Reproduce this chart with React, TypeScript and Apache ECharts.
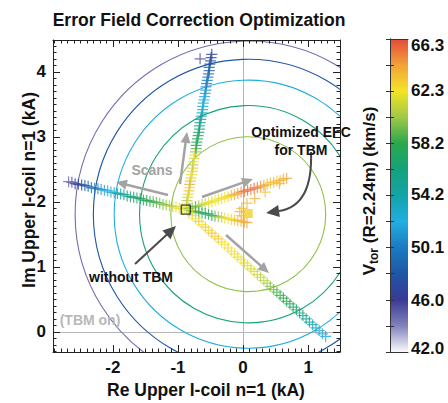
import React, { useEffect, useRef } from 'react';
import * as echarts from 'echarts';

const xRange = [-2.92, 1.49];
const yRange = [-0.31, 4.49];
const vRange = [42.0, 66.3];
const colorbarLabels = ['42.0', '46.0', '50.1', '54.2', '58.2', '62.3', '66.3'];
const colormap = ['#fafafd', '#8282bd', '#3a3a94', '#1e56a6', '#1a7ac2', '#22aee2', '#12a4a8', '#16a27a', '#2aa84e', '#a0c846', '#f4e426', '#f2a23a', '#e64a38'];

const contourCenter = [0.08, 1.81];
const contourRadii = [1.19, 1.67, 2.06, 2.38, 2.66];
const contourValues = [59.9, 56.2, 52.2, 48.1, 44.6];

const scanUp = [
  [-0.87, 1.92, 61.5], [-0.87, 1.97, 62.5], [-0.86, 2.02, 60.5], [-0.85, 2.07, 63.0], [-0.84, 2.12, 61.8],
  [-0.83, 2.17, 63.5], [-0.82, 2.22, 62.0], [-0.82, 2.27, 64.0], [-0.81, 2.32, 61.0], [-0.80, 2.37, 63.0],
  [-0.79, 2.42, 62.0], [-0.78, 2.47, 61.5], [-0.77, 2.52, 63.0], [-0.77, 2.57, 60.5], [-0.76, 2.62, 62.0],
  [-0.75, 2.67, 61.5], [-0.74, 2.72, 62.5], [-0.73, 2.77, 60.0], [-0.72, 2.82, 58.8], [-0.72, 2.87, 58.2],
  [-0.71, 2.92, 57.8], [-0.70, 2.97, 57.5], [-0.69, 3.02, 57.0], [-0.68, 3.07, 56.8], [-0.67, 3.12, 56.2],
  [-0.67, 3.17, 55.8], [-0.66, 3.22, 55.3], [-0.65, 3.27, 54.8], [-0.64, 3.32, 54.2], [-0.63, 3.37, 53.8],
  [-0.62, 3.42, 53.3], [-0.62, 3.47, 53.0], [-0.61, 3.52, 52.6], [-0.60, 3.57, 52.2], [-0.59, 3.62, 51.9],
  [-0.58, 3.67, 51.5], [-0.57, 3.72, 51.1], [-0.57, 3.77, 50.8], [-0.56, 3.82, 50.4], [-0.55, 3.87, 50.0],
  [-0.54, 3.92, 49.6], [-0.53, 3.97, 49.2], [-0.52, 4.02, 48.8], [-0.52, 4.07, 48.4], [-0.51, 4.12, 48.0],
  [-0.50, 4.17, 47.6], [-0.49, 4.22, 47.2], [-0.48, 4.27, 46.8], [-0.66, 4.20, 45.5],
];

const scanLeft = [
  [-0.93, 1.89, 62.2], [-0.98, 1.90, 61.8], [-1.03, 1.92, 62.5], [-1.08, 1.93, 61.2], [-1.13, 1.94, 60.8],
  [-1.18, 1.95, 60.2], [-1.23, 1.96, 59.8], [-1.28, 1.98, 59.4], [-1.33, 1.99, 59.0], [-1.38, 2.00, 58.6],
  [-1.43, 2.01, 58.3], [-1.48, 2.02, 57.9], [-1.53, 2.03, 57.6], [-1.58, 2.05, 57.3], [-1.63, 2.06, 57.0],
  [-1.68, 2.07, 56.6], [-1.73, 2.08, 56.2], [-1.78, 2.09, 55.8], [-1.83, 2.11, 55.3], [-1.88, 2.12, 54.8],
  [-1.93, 2.13, 54.2], [-1.98, 2.14, 53.6], [-2.03, 2.15, 53.0], [-2.08, 2.17, 52.4], [-2.13, 2.18, 51.9],
  [-2.18, 2.19, 51.3], [-2.23, 2.20, 50.7], [-2.28, 2.21, 50.1], [-2.33, 2.22, 49.5], [-2.38, 2.24, 48.9],
  [-2.43, 2.25, 48.3], [-2.48, 2.26, 47.6], [-2.53, 2.27, 46.9], [-2.58, 2.28, 46.2], [-2.63, 2.30, 45.4],
  [-2.68, 2.31, 44.6],
];

const scanUpRight = [
  [-0.83, 1.90, 59.5], [-0.78, 1.91, 60.5], [-0.73, 1.93, 58.8], [-0.68, 1.94, 60.2], [-0.63, 1.96, 61.0],
  [-0.58, 1.97, 61.5], [-0.53, 1.99, 62.0], [-0.48, 2.00, 61.6], [-0.43, 2.02, 62.2], [-0.38, 2.04, 62.0],
  [-0.33, 2.05, 62.4], [-0.28, 2.07, 62.2], [-0.23, 2.08, 62.8], [-0.18, 2.10, 63.4], [-0.13, 2.11, 63.8],
  [-0.08, 2.13, 64.3], [-0.03, 2.15, 64.8], [0.02, 2.16, 65.3], [0.07, 2.18, 65.6], [0.12, 2.19, 65.2],
  [0.17, 2.21, 65.6], [0.22, 2.22, 65.0], [0.27, 2.24, 64.6], [0.32, 2.25, 64.2], [0.37, 2.27, 63.8],
  [0.42, 2.29, 63.3], [0.47, 2.30, 63.6], [0.52, 2.32, 63.2], [0.57, 2.33, 63.6], [0.62, 2.35, 63.8],
  [0.67, 2.36, 64.0],
];

const scanRight = [
  [-0.83, 1.87, 60.5], [-0.78, 1.86, 59.5], [-0.73, 1.85, 58.6], [-0.68, 1.84, 58.0], [-0.63, 1.83, 57.4],
  [-0.58, 1.82, 57.2], [-0.53, 1.81, 57.6], [-0.48, 1.79, 58.2], [-0.43, 1.78, 59.0], [-0.38, 1.77, 60.2],
  [-0.33, 1.76, 61.0], [-0.28, 1.75, 61.8], [-0.23, 1.74, 62.2], [-0.18, 1.73, 62.8], [-0.13, 1.72, 63.2],
  [-0.08, 1.71, 63.6], [-0.03, 1.70, 63.8], [0.02, 1.69, 64.0], [0.06, 1.68, 64.2],
];

const scanExtra = [
  [-0.05, 1.85, 63.8], [-0.02, 1.90, 63.5], [0.06, 1.98, 63.6], [0.18, 2.05, 63.8],
  [0.34, 2.15, 63.4], [0.56, 2.28, 63.6], [-0.02, 1.79, 63.5],
];

const scanDownRight = [
  [-0.83, 1.83, 61.5], [-0.78, 1.79, 62.5], [-0.73, 1.74, 61.8], [-0.68, 1.70, 63.0], [-0.63, 1.65, 62.2],
  [-0.58, 1.61, 63.2], [-0.53, 1.56, 62.6], [-0.48, 1.52, 63.4], [-0.43, 1.47, 62.8], [-0.38, 1.43, 63.2],
  [-0.33, 1.38, 62.6], [-0.28, 1.34, 62.2], [-0.23, 1.29, 62.8], [-0.18, 1.24, 62.1], [-0.13, 1.20, 62.4],
  [-0.08, 1.15, 61.9], [-0.03, 1.11, 62.2], [0.02, 1.06, 61.7], [0.07, 1.02, 61.9], [0.12, 0.97, 61.5],
  [0.17, 0.93, 61.6], [0.22, 0.88, 61.2], [0.27, 0.84, 60.8], [0.32, 0.79, 60.9], [0.37, 0.75, 60.3],
  [0.42, 0.70, 59.8], [0.47, 0.65, 59.4], [0.52, 0.61, 58.9], [0.57, 0.56, 58.4], [0.62, 0.52, 58.1],
  [0.67, 0.47, 57.8], [0.72, 0.43, 57.4], [0.77, 0.38, 57.0], [0.82, 0.34, 56.6], [0.87, 0.29, 56.1],
  [0.92, 0.25, 55.6], [0.97, 0.20, 55.0], [1.02, 0.15, 54.4], [1.07, 0.11, 53.8], [1.12, 0.06, 53.2],
  [1.17, 0.02, 52.6], [1.22, -0.03, 52.1], [1.27, -0.07, 51.7],
];

const optimizedPoint = [[0.08, 1.82, 62.9]];
const noTbmPoint = [[-0.88, 1.88]];

const FONT = '"Liberation Sans", Arial, Helvetica, sans-serif';
const PLUS = 'path://M4.45,0H5.55V4.45H10V5.55H5.55V10H4.45V5.55H0V4.45H4.45Z';

const GRID = { left: 53, top: 40, width: 287, height: 312 };
const CBAR = { left: 390, top: 39, width: 18, height: 313 };

function arrow(x1: number, y1: number, x2: number, y2: number, color: string, width: number, headLen: number, headW: number) {
  const dx = x2 - x1, dy = y2 - y1;
  const L = Math.hypot(dx, dy);
  const ux = dx / L, uy = dy / L;
  const bx = x2 - ux * headLen, by = y2 - uy * headLen;
  const px = -uy, py = ux;
  return [
    { type: 'line', z: 50, shape: { x1, y1, x2: bx + ux * 1, y2: by + uy * 1 }, style: { stroke: color, lineWidth: width } },
    { type: 'polygon', z: 50, shape: { points: [[x2, y2], [bx + px * headW, by + py * headW], [bx - px * headW, by - py * headW]] }, style: { fill: color } },
  ];
}

function txt(x: number, y: number, text: string, size: number, color: string, extra: any = {}) {
  return {
    type: 'text', x, y, z: 60, ...extra,
    style: { text, fontSize: size, fontWeight: 'bold', fontFamily: FONT, fill: color, align: 'center', verticalAlign: 'middle', ...(extra.style || {}) },
  };
}

export default function App() {
  const ref = useRef<HTMLDivElement>(null);
  useEffect(() => {
    document.body.style.margin = '0';
    const chart = echarts.init(ref.current!, null, { renderer: 'svg' });

    const tickStyle = { color: '#222', width: 1 };
    const mainX = (pos: string, labels: boolean) => ({
      gridIndex: 0, type: 'value', min: xRange[0], max: xRange[1], position: pos, splitNumber: 5, z: 5,
      axisLine: { show: true, onZero: false, lineStyle: tickStyle },
      axisTick: { show: true, inside: true, length: 7, lineStyle: tickStyle },
      minorTick: { show: true, splitNumber: 10, length: 3.5, lineStyle: tickStyle },
      splitLine: { show: false },
      axisLabel: {
        show: labels, showMinLabel: false, showMaxLabel: false, margin: 7,
        fontSize: 17, fontWeight: 'bold', fontFamily: FONT, color: '#111',
        formatter: (v: number) => (Math.abs(v - Math.round(v)) < 1e-6 ? String(Math.round(v)) : ''),
      },
    });
    const mainY = (pos: string, labels: boolean) => ({
      gridIndex: 0, type: 'value', min: yRange[0], max: yRange[1], position: pos, splitNumber: 5, z: 5,
      axisLine: { show: true, onZero: false, lineStyle: tickStyle },
      axisTick: { show: true, inside: true, length: 7, lineStyle: tickStyle },
      minorTick: { show: true, splitNumber: 10, length: 3.5, lineStyle: tickStyle },
      splitLine: { show: false },
      axisLabel: {
        show: labels, showMinLabel: false, showMaxLabel: false, margin: 7,
        fontSize: 17, fontWeight: 'bold', fontFamily: FONT, color: '#111',
        formatter: (v: number) => (Math.abs(v - Math.round(v)) < 1e-6 ? String(Math.round(v)) : ''),
      },
    });
    const cbX = (pos: string) => ({
      gridIndex: 1, type: 'value', min: 0, max: 1, position: pos, z: 10,
      axisLine: { show: true, lineStyle: { color: '#333', width: 1 } },
      axisTick: { show: false }, axisLabel: { show: false }, splitLine: { show: false },
    });
    const cbY = (pos: string) => ({
      gridIndex: 1, type: 'value', min: vRange[0], max: vRange[1], interval: (vRange[1] - vRange[0]) / 12, position: pos, z: 10,
      axisLine: { show: true, lineStyle: { color: '#333', width: 1 } },
      axisTick: { show: true, inside: true, length: 4, lineStyle: { color: '#333', width: 1 } },
      axisLabel: { show: false }, splitLine: { show: false },
    });

    const scatter = (data: number[][]) => ({
      type: 'scatter', xAxisIndex: 0, yAxisIndex: 0, data, symbol: PLUS, symbolSize: 11,
      itemStyle: { opacity: 0.8 }, z: 3, silent: true,
    });

    const cbLabelEls = colorbarLabels.map((s) => {
      const v = parseFloat(s);
      let y = CBAR.top + ((vRange[1] - v) / (vRange[1] - vRange[0])) * CBAR.height;
      y = Math.min(Math.max(y, CBAR.top + 6), CBAR.top + CBAR.height - 4);
      return {
        type: 'text', x: CBAR.left + CBAR.width + 3, y, z: 60,
        style: { text: s, fontSize: 17, fontWeight: 'bold', fontFamily: FONT, fill: '#111', align: 'left', verticalAlign: 'middle' },
      };
    });

    const n = colormap.length;
    const gradStops = colormap.slice().reverse().map((c, i) => ({ offset: i / (n - 1), color: c }));

    const curveStart = [311, 152], curveCp = [313, 206], curveEnd = [279, 211];
    const tdx = curveEnd[0] - curveCp[0], tdy = curveEnd[1] - curveCp[1];
    const tl = Math.hypot(tdx, tdy);
    const tip = [curveEnd[0] + (tdx / tl) * 13, curveEnd[1] + (tdy / tl) * 13];

    const graphics: any[] = [
      { type: 'rect', z: 1, shape: { x: CBAR.left, y: CBAR.top, width: CBAR.width, height: CBAR.height },
        style: { fill: { type: 'linear', x: 0, y: 0, x2: 0, y2: 1, global: false, colorStops: gradStops } } },
      txt(199, 20, 'Error Field Correction Optimization', 17.5, '#111'),
      txt(206, 390, 'Re Upper I-coil n=1 (kA)', 17.5, '#111'),
      txt(29, 190, 'Im Upper I-coil n=1 (kA)', 17.5, '#111', { rotation: Math.PI / 2 }),
      {
        type: 'text', x: 369, y: 191, rotation: Math.PI / 2, z: 60,
        style: {
          text: '{v|V}{s|tor}{r| (R=2.24m) (km/s)}', align: 'center', verticalAlign: 'middle', fill: '#111',
          fontFamily: FONT, fontWeight: 'bold', fontSize: 17,
          rich: {
            v: { fontSize: 17, fontWeight: 'bold', fontFamily: FONT, lineHeight: 22, verticalAlign: 'middle', fill: '#111' },
            s: { fontSize: 12, fontWeight: 'bold', fontFamily: FONT, lineHeight: 12, verticalAlign: 'bottom', fill: '#111' },
            r: { fontSize: 17, fontWeight: 'bold', fontFamily: FONT, lineHeight: 22, verticalAlign: 'middle', fill: '#111' },
          },
        },
      },
      ...cbLabelEls,
      txt(152, 170, 'Scans', 14, '#a3a3a3'),
      txt(301, 132, 'Optimized EFC', 14, '#111'),
      txt(301, 150, 'for TBM', 14, '#111'),
      txt(131, 277, 'without TBM', 14, '#111'),
      txt(90, 320, '(TBM on)', 14, '#b8b8b8'),
      ...arrow(168, 195, 116, 182, '#a3a3a3', 2.5, 11, 5),
      ...arrow(180, 184, 187, 132, '#a3a3a3', 2.5, 11, 5),
      ...arrow(202, 197, 253, 179, '#a3a3a3', 2.5, 11, 5),
      ...arrow(226, 235, 269, 273, '#a3a3a3', 2.5, 11, 5),
      ...arrow(135, 264, 176, 226, '#4a4a4a', 2, 13, 6),
      { type: 'bezierCurve', z: 50, shape: { x1: curveStart[0], y1: curveStart[1], x2: curveEnd[0], y2: curveEnd[1], cpx1: curveCp[0], cpy1: curveCp[1] },
        style: { stroke: '#4a4a4a', lineWidth: 2, fill: 'none' } },
      { type: 'polygon', z: 50, shape: { points: [
        tip,
        [curveEnd[0] - (tdy / tl) * 6, curveEnd[1] + (tdx / tl) * 6],
        [curveEnd[0] + (tdy / tl) * 6, curveEnd[1] - (tdx / tl) * 6],
      ] }, style: { fill: '#4a4a4a' } },
    ];

    const contourData = contourRadii.map((r, i) => [contourCenter[0], contourCenter[1], contourValues[i], r]);

    chart.setOption({
      animation: false,
      backgroundColor: '#fff',
      grid: [
        { ...GRID, containLabel: false },
        { ...CBAR, containLabel: false },
      ],
      xAxis: [mainX('bottom', true), mainX('top', false), cbX('bottom'), cbX('top')],
      yAxis: [mainY('left', true), mainY('right', false), cbY('left'), cbY('right')],
      visualMap: {
        type: 'continuous', show: false, min: vRange[0], max: vRange[1], dimension: 2,
        seriesIndex: [0, 1, 2, 3, 4, 5, 6, 7], inRange: { color: colormap },
      },
      series: [
        {
          type: 'custom', xAxisIndex: 0, yAxisIndex: 0, data: contourData, silent: true, z: 1,
          encode: { x: 0, y: 1 },
          renderItem: (params: any, api: any) => {
            const c = api.coord([api.value(0), api.value(1)]);
            const r = api.size([api.value(3), 0])[0];
            const cs = params.coordSys;
            return {
              type: 'circle',
              shape: { cx: c[0], cy: c[1], r },
              style: { fill: 'none', stroke: api.visual('color'), lineWidth: 1.1 },
              clipPath: { type: 'rect', shape: { x: cs.x, y: cs.y, width: cs.width, height: cs.height } },
            };
          },
        },
        scatter(scanUp),
        scatter(scanLeft),
        scatter(scanUpRight),
        scatter(scanRight),
        scatter(scanDownRight),
        scatter(scanExtra),
        {
          type: 'scatter', xAxisIndex: 0, yAxisIndex: 0, data: optimizedPoint, symbol: 'rect', symbolSize: 9, z: 4, silent: true,
        },
        {
          type: 'scatter', xAxisIndex: 0, yAxisIndex: 0, data: noTbmPoint, symbol: 'rect', symbolSize: 9, z: 6, silent: true,
          itemStyle: { color: 'rgba(0,0,0,0)', borderColor: '#111', borderWidth: 1.3 },
          markLine: {
            silent: true, symbol: ['none', 'none'], z: 0,
            lineStyle: { color: '#b5b5b5', width: 1, type: 'solid' },
            label: { show: false },
            data: [{ xAxis: 0 }, { yAxis: 0 }],
          },
        },
      ],
      graphic: { elements: graphics },
    });
    return () => chart.dispose();
  }, []);
  return <div ref={ref} style={{ position: 'fixed', left: 0, top: 0, width: 448, height: 403 }} />;
}
